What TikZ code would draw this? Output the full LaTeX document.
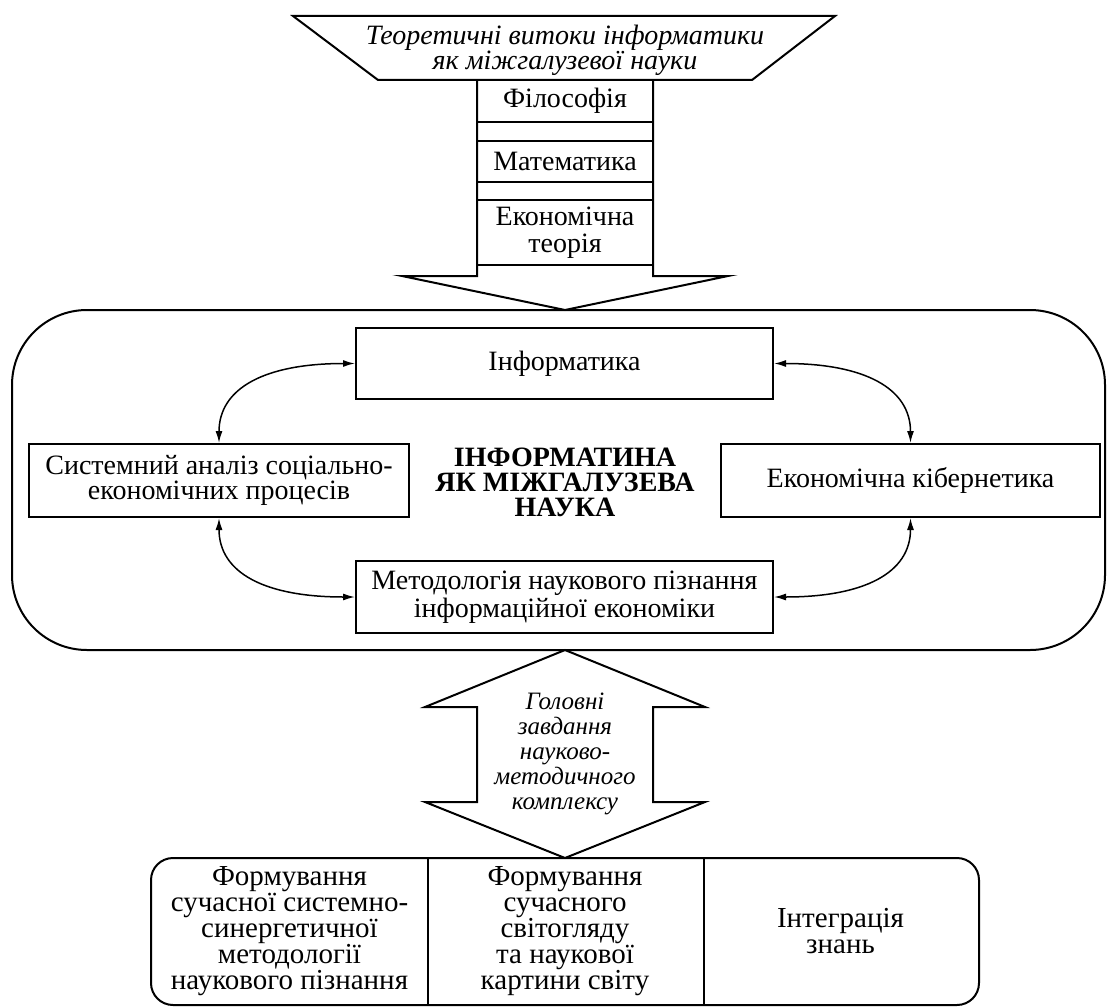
\documentclass[tikz,border=0pt]{standalone}
\usepackage{fontspec}
\setmainfont{Liberation Serif}
\usetikzlibrary{positioning,arrows.meta}

\begin{document}
\begin{tikzpicture}[x=0.5pt,y=-0.5pt,line width=1pt,>={Latex[length=6pt,width=3.5pt]},
  box/.style={draw,rectangle,inner sep=0pt,align=center,font=\fontsize{14}{12.5}\selectfont},
  cell/.style={rectangle,inner sep=0pt,align=center,minimum width=137.5pt,minimum height=72.5pt,font=\fontsize{14.5}{13}\selectfont},
  note/.style={align=center,inner sep=0pt,font=\fontsize{14}{12.5}\selectfont\itshape},
  link/.style={<->,line width=0.75pt}]
\useasboundingbox (0,0) rectangle (1107,1006);

% Sources
\draw (293,16) -- (835,16) -- (752,80) -- (378,80) -- cycle;
\node[note] (sources) at (565,50) {Теоретичні витоки інформатики\\як міжгалузевої науки};

% Arrow down
\draw (477,80) -- (477,276) -- (402,276) -- (565,310) -- (728,276) -- (653,276) -- (653,80);
\node[box,minimum width=88pt,minimum height=21pt] (phil) at (565,101) {Філософія};
\node[box,minimum width=88pt,minimum height=20.5pt] (math) at (565,161.5) {Математика};
\node[box,minimum width=88pt,minimum height=32.5pt,font=\fontsize{14}{13.5}\selectfont] (econ) at (565,232.5) {Економічна\\теорія};

% Interdisciplinary science
\draw[rounded corners=37.5pt] (12,310) rectangle (1105,650);
\node[box,minimum width=208.5pt,minimum height=35.5pt] (info) at (564.5,363.5) {Інформатика};
\node[box,minimum width=190pt,minimum height=36.5pt] (sys) at (219,480.5) {Системний аналіз соціально-\\економічних процесів};
\node[box,minimum width=189.5pt,minimum height=36.5pt] (cyb) at (910.5,480.5) {Економічна кібернетика};
\node[box,minimum width=208.5pt,minimum height=36pt] (meth) at (564.5,597) {Методологія наукового пізнання\\інформаційної економіки};
\node[align=center,font=\fontsize{14}{12.5}\selectfont\bfseries] (core) at (565,482) {ІНФОРМАТИНА\\ЯК МІЖГАЛУЗЕВА\\НАУКА};

% Links
\draw[link] (info.west) .. controls +(-90,0) and +(0,-55) .. (sys.north);
\draw[link] (info.east) .. controls +(90,0) and +(0,-55) .. (cyb.north);
\draw[link] (sys.south) .. controls +(0,55) and +(-90,0) .. (meth.west);
\draw[link] (cyb.south) .. controls +(0,55) and +(90,0) .. (meth.east);

% Double arrow
\draw (565,650) -- (705,707) -- (653,707) -- (653,802) -- (705,802) -- (565,858) -- (425,802) -- (477,802) -- (477,707) -- (425,707) -- cycle;
\node[note,font=\fontsize{12.5}{12.5}\selectfont\itshape] (tasks) at (565,754) {Головні\\завдання\\науково-\\методичного\\комплексу};

% Tasks
\node[cell] (form1) at (289.5,931.5) {Формування\\сучасної системно-\\синергетичної\\методології\\наукового пізнання};
\node[cell] (form2) at (565,931.5) {Формування\\сучасного\\світогляду\\та наукової\\картини світу};
\node[cell] (integ) at (840.5,931.5) {Інтеграція\\знань};
\draw[rounded corners=11pt] (form1.north west) rectangle (integ.south east);
\draw (form1.north east) -- (form1.south east);
\draw (form2.north east) -- (form2.south east);
\end{tikzpicture}
\end{document}
